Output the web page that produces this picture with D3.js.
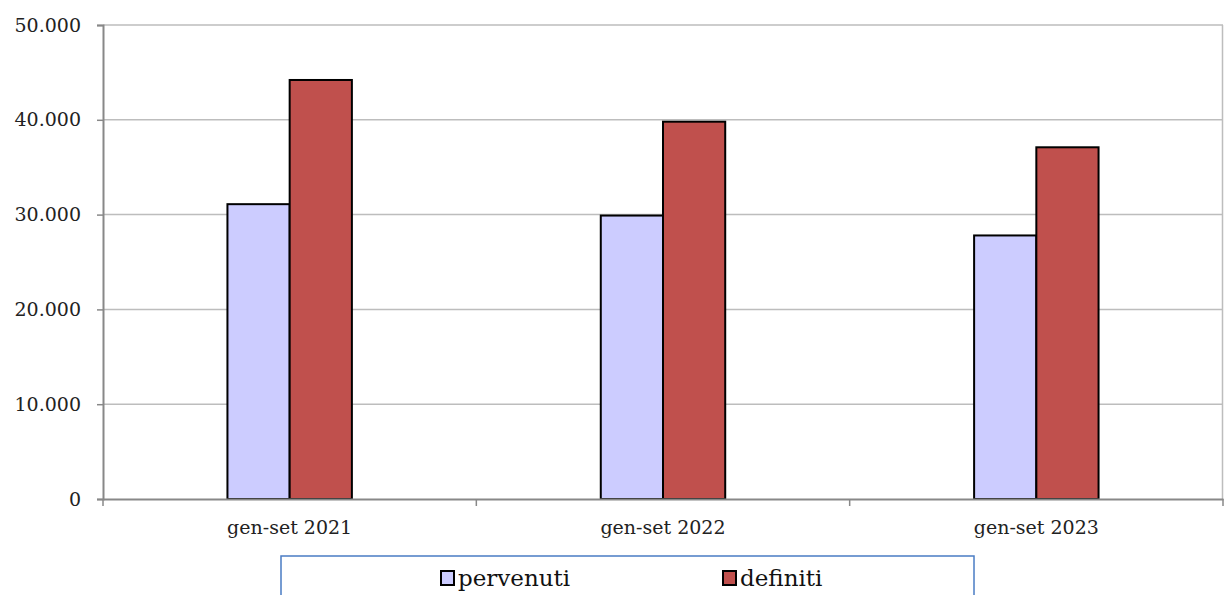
<!DOCTYPE html>
<html><head><meta charset="utf-8">
<script src="https://cdn.jsdelivr.net/npm/d3@7"></script>
<style>body{margin:0;background:#fff;} svg{display:block;}</style>
</head><body>
<svg id="c" width="1224" height="595"></svg>
<script>
const categories = ["gen-set 2021", "gen-set 2022", "gen-set 2023"];
const seriesNames = ["pervenuti", "definiti"];
const pervenuti = [31100, 29900, 27800];
const definiti = [44200, 39800, 37100];
const yTicks = [0, 10000, 20000, 30000, 40000, 50000];
const colors = ["#CCCCFF", "#C0504D"];

const svg = d3.select("#c");
const m = {l: 103, r: 1, t: 25, b: 96};
const W = 1224, H = 595;
const x = d3.scaleBand().domain(categories).range([m.l, W - m.r]).paddingInner(0).paddingOuter(0);
const y = d3.scaleLinear().domain([0, 50000]).range([H - m.b, m.t]);
const x1 = d3.scaleBand().domain(seriesNames).range([x.bandwidth()/3, x.bandwidth()*2/3]);
const font = "DejaVu Serif, serif";
const fmt = v => d3.format(",")(v).replace(/,/g, ".");

// gridlines
svg.append("g").selectAll("line").data(yTicks.filter(d => d > 0)).join("line")
  .attr("x1", m.l).attr("x2", W - m.r).attr("y1", d => y(d)).attr("y2", d => y(d))
  .attr("stroke", "#bdbdbd").attr("stroke-width", 1.5);
// right border
svg.append("line").attr("x1", W - m.r - 0.5).attr("x2", W - m.r - 0.5).attr("y1", m.t).attr("y2", y(0))
  .attr("stroke", "#bdbdbd").attr("stroke-width", 1.5);

// bars
const data = categories.map((c, i) => ({c, vals: [pervenuti[i], definiti[i]]}));
const g = svg.append("g").selectAll("g").data(data).join("g")
  .attr("transform", d => `translate(${x(d.c)},0)`);
g.selectAll("rect").data(d => d.vals.map((v, j) => ({s: seriesNames[j], v, j}))).join("rect")
  .attr("x", d => x1(d.s)).attr("width", x1.bandwidth())
  .attr("y", d => y(d.v)).attr("height", d => y(0) - y(d.v))
  .attr("fill", d => colors[d.j]).attr("stroke", "#000").attr("stroke-width", 2);

// y axis
const ya = svg.append("g").attr("transform", `translate(${m.l},0)`)
  .call(d3.axisLeft(y).tickValues(yTicks).tickFormat(fmt).tickSize(6).tickPadding(16));
ya.select(".domain").attr("stroke", "#888").attr("stroke-width", 2);
ya.selectAll(".tick line").attr("stroke", "#888").attr("stroke-width", 1.5);
ya.selectAll("text").attr("font-family", font).attr("font-size", 19).attr("fill", "#222");

// x axis
const xa = svg.append("g").attr("transform", `translate(0,${y(0)})`)
  .call(d3.axisBottom(x).tickSize(0).tickPadding(22));
xa.select(".domain").attr("stroke", "#888").attr("stroke-width", 2);
xa.selectAll("text").attr("font-family", font).attr("font-size", 19).attr("fill", "#222");
const bounds = categories.map(c => x(c)).concat([x(categories[categories.length-1]) + x.bandwidth()]);
svg.append("g").selectAll("line").data(bounds).join("line")
  .attr("x1", d => d).attr("x2", d => d).attr("y1", y(0)).attr("y2", y(0) + 7)
  .attr("stroke", "#888").attr("stroke-width", 1.5);

// legend
const lg = svg.append("g");
lg.append("rect").attr("x", 281).attr("y", 556).attr("width", 693).attr("height", 60)
  .attr("fill", "#fff").attr("stroke", "#4a7cc4").attr("stroke-width", 1.5);
const lx = [441, 723];
seriesNames.forEach((s, i) => {
  lg.append("rect").attr("x", lx[i]).attr("y", 571).attr("width", 13).attr("height", 14)
    .attr("fill", colors[i]).attr("stroke", "#000").attr("stroke-width", 2);
  lg.append("text").attr("x", lx[i] + 17).attr("y", 586).text(s)
    .attr("font-family", font).attr("font-size", 23).attr("fill", "#111");
});
</script>
</body></html>
